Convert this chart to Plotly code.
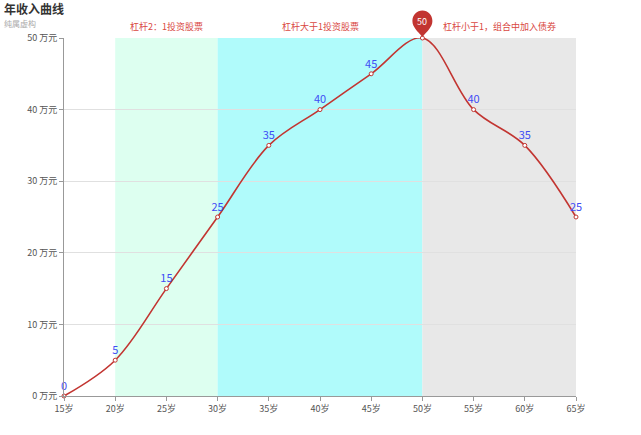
import plotly.graph_objects as go

ages = [15, 20, 25, 30, 35, 40, 45, 50, 55, 60, 65]
income = [0, 5, 15, 25, 35, 40, 45, 50, 40, 35, 25]
y_ticks = [0, 10, 20, 30, 40, 50]

regions = [
    (20, 30, "杠杆2：1投资股票", "#ddfff0"),
    (30, 50, "杠杆大于1投资股票", "#b0fbfb"),
    (50, 65, "杠杆小于1，组合中加入债券", "#e8e8e8"),
]

FONT = "Noto Sans CJK SC, Noto Sans, sans-serif"
RED = "#c23531"
X_RANGE = [min(ages), max(ages)]
Y_RANGE = [0, 50]

imax = income.index(max(income))
# the max point's own label sits under the pin, so it is left blank
labels = ["" if i == imax else str(v) for i, v in enumerate(income)]

fig = go.Figure()
fig.add_trace(go.Scatter(
    x=ages, y=income, mode="lines+markers+text",
    line=dict(color=RED, width=1.6, shape="spline", smoothing=1.0),
    marker=dict(symbol="circle", size=4, color="white", line=dict(color=RED, width=1)),
    text=labels, textposition="top center",
    textfont=dict(color="#3f4cf5", size=11, family=FONT),
    cliponaxis=False, hoverinfo="x+y", showlegend=False,
))

shapes = []
annotations = []
for x0, x1, label, color in regions:
    shapes.append(dict(type="rect", xref="x", yref="paper", x0=x0, x1=x1, y0=0, y1=1,
                       fillcolor=color, line=dict(width=0), layer="below"))
    annotations.append(dict(x=(x0 + x1) / 2, y=1, xref="x", yref="paper", text=label,
                            showarrow=False, yanchor="bottom", yshift=3,
                            font=dict(color="#d9483f", size=9, family=FONT)))

# max pin (domain-referenced so it is not clipped by the plot area)
px = (ages[imax] - X_RANGE[0]) / (X_RANGE[1] - X_RANGE[0])
py = (income[imax] - Y_RANGE[0]) / (Y_RANGE[1] - Y_RANGE[0])
shapes.append(dict(type="path", xref="x domain", yref="y domain", xsizemode="pixel", ysizemode="pixel",
                   xanchor=px, yanchor=py,
                   path="M 0,1 C -5,7 -10,11 -10,17 C -10,23 -5.5,27.5 0,27.5 C 5.5,27.5 10,23 10,17 C 10,11 5,7 0,1 Z",
                   fillcolor=RED, line=dict(width=0), layer="above"))
annotations.append(dict(x=ages[imax], y=income[imax], xref="x", yref="y", text=str(income[imax]),
                        showarrow=False, yshift=17, font=dict(color="white", size=9, family=FONT)))

annotations.append(dict(x=0, y=1, xref="paper", yref="paper", xanchor="left", yanchor="middle",
                        text="<b>年收入曲线</b>", showarrow=False, xshift=-62, yshift=30,
                        font=dict(size=12, color="#333", family=FONT)))
annotations.append(dict(x=0, y=1, xref="paper", yref="paper", xanchor="left", yanchor="middle",
                        text="纯属虚构", showarrow=False, xshift=-62, yshift=15,
                        font=dict(size=8, color="#aaa", family=FONT)))

fig.update_layout(
    width=641, height=435,
    margin=dict(l=64, r=65, t=38, b=39),
    plot_bgcolor="white", paper_bgcolor="white",
    font=dict(family=FONT, size=9, color="#555"),
    shapes=shapes, annotations=annotations,
    xaxis=dict(range=X_RANGE, tickvals=ages, ticktext=[f"{a}岁" for a in ages], automargin=False,
               showgrid=False, zeroline=False, showline=True, linecolor="#999", linewidth=1,
               ticks="outside", ticklen=4, tickcolor="#999", tickfont=dict(size=9, color="#555")),
    yaxis=dict(range=Y_RANGE, tickvals=y_ticks, ticktext=[f"{v} 万元" for v in y_ticks], automargin=False,
               showgrid=True, gridcolor="#e0e0e0", gridwidth=1, zeroline=False,
               showline=True, linecolor="#999", linewidth=1,
               ticks="outside", ticklen=4, tickcolor="#999", tickfont=dict(size=9, color="#555")),
)

fig.write_html("out.html", config={"displayModeBar": False},
               post_script="document.body.style.margin='0';")
